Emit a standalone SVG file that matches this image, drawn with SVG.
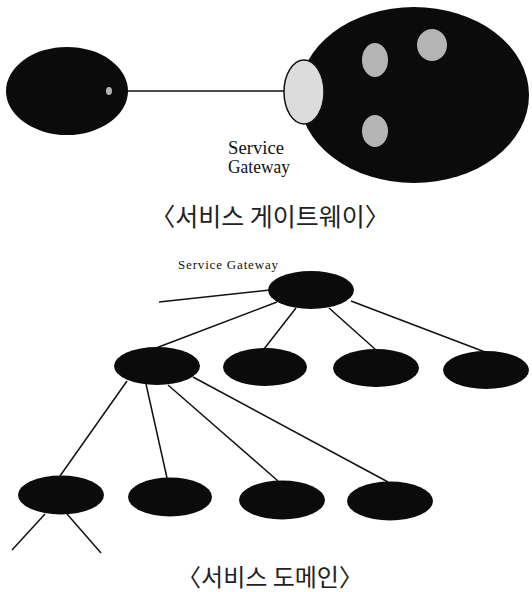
<svg xmlns="http://www.w3.org/2000/svg" width="532" height="592" viewBox="0 0 532 592">
<defs>
<style>
.blob{fill:#0b0b0b;}
.spot{fill:#b4b4b4;}
.gw{fill:#dcdcdc;stroke:#111;stroke-width:1.5;}
.ln{stroke:#111;stroke-width:1.5;fill:none;}
.lbl{font-family:"Liberation Serif",serif;fill:#111;}
.cap{font-family:"Noto Sans CJK KR",sans-serif;fill:#222;text-anchor:middle;}
</style>
</defs>
<rect width="532" height="592" fill="#fff"/>
<g id="connectors">
<line class="ln" x1="126" y1="91" x2="285" y2="91"/>
<line class="ln" x1="159" y1="302" x2="270" y2="290"/>
<line class="ln" x1="277" y1="302" x2="156" y2="348"/>
<line class="ln" x1="296" y1="308" x2="264" y2="349"/>
<line class="ln" x1="329" y1="308" x2="376" y2="350"/>
<line class="ln" x1="351" y1="301" x2="485" y2="352"/>
<line class="ln" x1="127" y1="381" x2="60" y2="476"/>
<line class="ln" x1="146" y1="384" x2="167" y2="478"/>
<line class="ln" x1="168" y1="385" x2="278" y2="481"/>
<line class="ln" x1="193" y1="377" x2="388" y2="482"/>
<line class="ln" x1="45" y1="514" x2="12" y2="550"/>
<line class="ln" x1="67" y1="514" x2="101" y2="553"/>
</g>
<g id="client-domain">
<ellipse class="blob" cx="67" cy="91" rx="61" ry="44"/>
<ellipse class="spot" cx="109" cy="91" rx="3" ry="4"/>
</g>
<g id="service-domain">
<ellipse class="blob" cx="414" cy="95" rx="115" ry="88"/>
<ellipse class="spot" cx="375" cy="60" rx="13" ry="17"/>
<ellipse class="spot" cx="432" cy="45" rx="15" ry="16"/>
<ellipse class="spot" cx="375" cy="131" rx="13" ry="16"/>
</g>
<g id="gateway">
<ellipse class="gw" cx="304" cy="92" rx="20" ry="32"/>
<text class="lbl" x="228" y="154" font-size="19" textLength="56" lengthAdjust="spacingAndGlyphs">Service</text>
<text class="lbl" x="228" y="173" font-size="19" textLength="62" lengthAdjust="spacingAndGlyphs">Gateway</text>
</g>
<text class="cap" x="270" y="226" font-size="25">〈서비스 게이트웨이〉</text>
<g id="root">
<ellipse class="blob" cx="311" cy="290" rx="43" ry="19"/>
<text class="lbl" x="178" y="269" font-size="13" textLength="100" lengthAdjust="spacing">Service Gateway</text>
</g>
<g id="n1"><ellipse class="blob" cx="157" cy="366" rx="43" ry="19"/></g>
<g id="n2"><ellipse class="blob" cx="265" cy="367" rx="42" ry="19"/></g>
<g id="n3"><ellipse class="blob" cx="376" cy="368" rx="43" ry="19"/></g>
<g id="n4"><ellipse class="blob" cx="486" cy="370" rx="43" ry="19"/></g>
<g id="m1"><ellipse class="blob" cx="61" cy="495" rx="43" ry="19.5"/></g>
<g id="m2"><ellipse class="blob" cx="170" cy="497" rx="42" ry="19.5"/></g>
<g id="m3"><ellipse class="blob" cx="282" cy="500" rx="43" ry="19.5"/></g>
<g id="m4"><ellipse class="blob" cx="390" cy="501" rx="43" ry="19.5"/></g>
<text class="cap" x="270" y="586" font-size="24">〈서비스 도메인〉</text>
</svg>
